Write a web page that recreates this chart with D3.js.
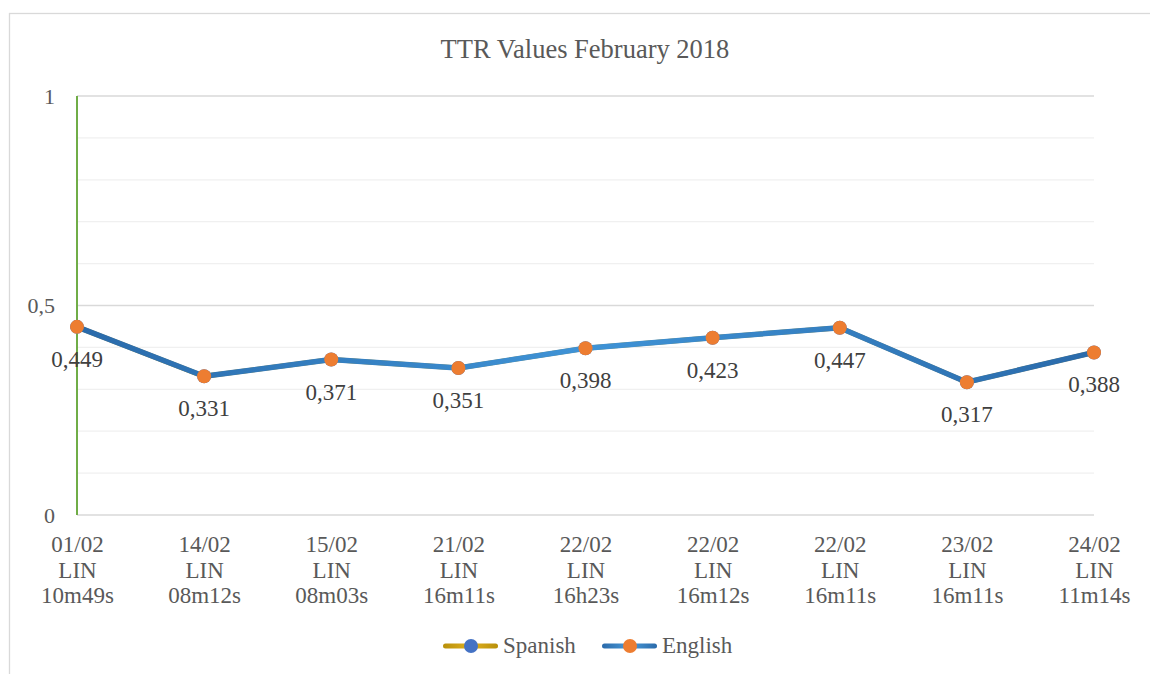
<!DOCTYPE html>
<html><head><meta charset="utf-8">
<script src="https://cdn.jsdelivr.net/npm/d3@7"></script>
<style>body{margin:0;background:#fff}svg{display:block}</style>
</head><body>
<script>
const categories = [
  ["01/02","LIN","10m49s"],["14/02","LIN","08m12s"],["15/02","LIN","08m03s"],
  ["21/02","LIN","16m11s"],["22/02","LIN","16h23s"],["22/02","LIN","16m12s"],
  ["22/02","LIN","16m11s"],["23/02","LIN","16m11s"],["24/02","LIN","11m14s"]
];
const englishValues = [0.449,0.331,0.371,0.351,0.398,0.423,0.447,0.317,0.388];
const spanishValues = [0.449,0.331,0.371,0.351,0.398,0.423,0.447,0.317,0.388];
const yTicks = [0,0.1,0.2,0.3,0.4,0.5,0.6,0.7,0.8,0.9,1];
const yTickLabels = {0:"0",0.5:"0,5",1:"1"};
const title = "TTR Values February 2018";

const W=1150,H=674;
const font="'Liberation Serif','Times New Roman',serif";
const svg=d3.select("body").append("svg").attr("width",W).attr("height",H);
const defs=svg.append("defs");
const gEn=defs.append("linearGradient").attr("id","gEn").attr("gradientUnits","userSpaceOnUse")
  .attr("x1",77).attr("x2",1094).attr("y1",0).attr("y2",0);
gEn.append("stop").attr("offset","0%").attr("stop-color","#2a6aaa");
gEn.append("stop").attr("offset","50%").attr("stop-color","#3f93d6");
gEn.append("stop").attr("offset","100%").attr("stop-color","#2a6aaa");
const gLegEn=defs.append("linearGradient").attr("id","gLegEn");
gLegEn.append("stop").attr("offset","0%").attr("stop-color","#2a6aaa");
gLegEn.append("stop").attr("offset","50%").attr("stop-color","#4a9ad8");
gLegEn.append("stop").attr("offset","100%").attr("stop-color","#2a6aaa");
const gLegEs=defs.append("linearGradient").attr("id","gLegEs");
gLegEs.append("stop").attr("offset","0%").attr("stop-color","#b8900a");
gLegEs.append("stop").attr("offset","50%").attr("stop-color","#e0b020");
gLegEs.append("stop").attr("offset","100%").attr("stop-color","#b8900a");

// outer frame
svg.append("rect").attr("x",9.5).attr("y",13.5).attr("width",W).attr("height",H)
  .attr("fill","#fff").attr("stroke","#d9d9d9").attr("stroke-width",1.3);

const x=d3.scalePoint().domain(d3.range(categories.length)).range([77,1094]).padding(0);
const y=d3.scaleLinear().domain([0,1]).range([515,96]);

// gridlines
svg.append("g").selectAll("line").data(yTicks).join("line")
  .attr("x1",77).attr("x2",1094).attr("y1",d=>y(d)).attr("y2",d=>y(d))
  .attr("stroke",d=>(d===0||d===0.5||d===1)?"#d9d9d9":"#f0f0f0").attr("stroke-width",1.3);

// y-axis labels
const yAxis=d3.axisLeft(y).tickValues([0,0.5,1]).tickFormat(d=>yTickLabels[d]).tickSize(0).tickPadding(0);
const ya=svg.append("g").attr("transform","translate(55,0)").call(yAxis);
ya.select(".domain").remove();
ya.selectAll("text").attr("font-family",font).attr("font-size",22).attr("fill","#595959");

// green axis line
svg.append("line").attr("x1",77).attr("x2",77).attr("y1",y(1)).attr("y2",y(0))
  .attr("stroke","#70ad47").attr("stroke-width",2);

// x-axis labels
const xAxis=d3.axisBottom(x).tickSize(0).tickFormat("");
const xa=svg.append("g").attr("transform",`translate(0,${y(0)})`).call(xAxis);
xa.select(".domain").remove();
xa.selectAll(".tick").each(function(i){
  const t=d3.select(this).append("text").attr("font-family",font).attr("font-size",23)
    .attr("fill","#595959").attr("text-anchor","middle");
  categories[i].forEach((s,k)=>t.append("tspan").attr("x",0).attr("y",37+k*25.5).text(s));
});

// title
svg.append("text").attr("x",585).attr("y",58).attr("text-anchor","middle")
  .attr("font-family",font).attr("font-size",26.5).attr("fill","#595959").text(title);

const line=d3.line().x((d,i)=>x(i)).y(d=>y(d));
// Spanish (hidden beneath)
svg.append("path").datum(spanishValues).attr("d",line).attr("fill","none")
  .attr("stroke","#bf9000").attr("stroke-width",5).attr("stroke-linejoin","round");
svg.append("g").selectAll("circle").data(spanishValues).join("circle")
  .attr("cx",(d,i)=>x(i)).attr("cy",d=>y(d)).attr("r",7).attr("fill","#4472c4");
// English
svg.append("path").datum(englishValues).attr("d",line).attr("fill","none")
  .attr("stroke","url(#gEn)").attr("stroke-width",5.5).attr("stroke-linejoin","round");
svg.append("g").selectAll("circle").data(englishValues).join("circle")
  .attr("cx",(d,i)=>x(i)).attr("cy",d=>y(d)).attr("r",7).attr("fill","#ed7d31");
// data labels
svg.append("g").selectAll("text").data(englishValues).join("text")
  .attr("x",(d,i)=>x(i)).attr("y",d=>y(d)+40).attr("text-anchor","middle")
  .attr("font-family",font).attr("font-size",23).attr("fill","#404040")
  .text(d=>d3.format(".3f")(d).replace(".",","));

// legend
const legend=[{name:"Spanish",grad:"url(#gLegEs)",marker:"#4472c4",x:443},
              {name:"English",grad:"url(#gLegEn)",marker:"#ed7d31",x:602}];
const lg=svg.append("g").selectAll("g").data(legend).join("g").attr("transform",d=>`translate(${d.x},646)`);
lg.append("rect").attr("x",0).attr("y",-2.5).attr("width",55).attr("height",5).attr("rx",2.5).attr("fill",d=>d.grad);
lg.append("circle").attr("cx",28).attr("cy",0).attr("r",7).attr("fill",d=>d.marker);
lg.append("text").attr("x",60).attr("y",7).attr("font-family",font).attr("font-size",23)
  .attr("fill","#595959").text(d=>d.name);
</script>
</body></html>
